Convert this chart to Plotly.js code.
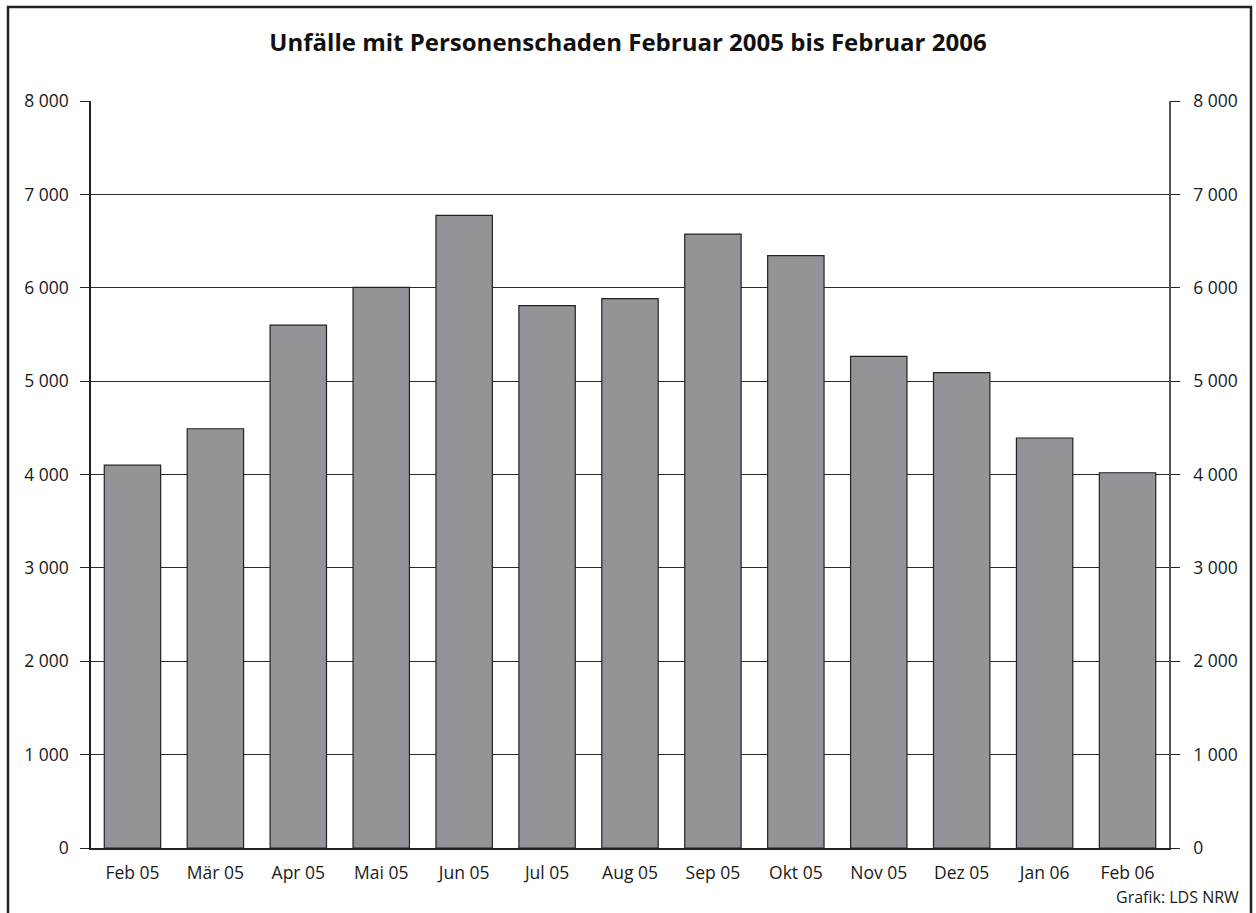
<!DOCTYPE html>
<html>
<head>
<meta charset="utf-8">
<script src="https://cdn.plot.ly/plotly-3.0.1.min.js"></script>
<style>
html,body{margin:0;padding:0;background:#fff;}
#chart{width:1256px;height:913px;}
</style>
</head>
<body>
<div id="chart"></div>
<script>
const months = ["Feb 05","Mär 05","Apr 05","Mai 05","Jun 05","Jul 05","Aug 05","Sep 05","Okt 05","Nov 05","Dez 05","Jan 06","Feb 06"];
const accidents = [4100, 4490, 5600, 6005, 6775, 5808, 5883, 6575, 6343, 5265, 5090, 4391, 4019];
const yTicks = [0,1000,2000,3000,4000,5000,6000,7000,8000];
const titleText = "Unfälle mit Personenschaden Februar 2005 bis Februar 2006";
const sourceText = "Grafik: LDS NRW";

const font = "Open Sans, Noto Sans, sans-serif";

const traces = [
  {
    type: "bar",
    x: months,
    y: accidents,
    marker: {color: "#939498", line: {color: "#222222", width: 1.2}},
    hoverinfo: "x+y",
    showlegend: false
  },
  {
    type: "scatter",
    mode: "markers",
    x: months,
    y: accidents,
    yaxis: "y2",
    marker: {opacity: 0},
    hoverinfo: "skip",
    showlegend: false
  }
];

const yaxisCommon = {
  range: [0, 8000],
  tickvals: yTicks,
  tickformat: ",d",
  ticks: "outside",
  ticklen: 9,
  tickwidth: 1.2,
  tickcolor: "#222",
  showline: true,
  linecolor: "#222",
  linewidth: 1.5,
  tickfont: {family: font, size: 17.5, color: "#1a1a1a"},
  fixedrange: true,
  zeroline: false
};

const layout = {
  width: 1256,
  height: 913,
  separators: ", ",
  paper_bgcolor: "#ffffff",
  plot_bgcolor: "#ffffff",
  margin: {l: 91, r: 87, t: 101, b: 65},
  bargap: 0.32,
  title: {
    text: "<b>" + titleText + "</b>",
    font: {family: font, size: 24, color: "#111"},
    x: 0.5, xanchor: "center",
    y: 1 - 43/913, yref: "container", yanchor: "middle"
  },
  xaxis: {
    type: "category",
    range: [-0.5, 12.5],
    showline: true,
    linecolor: "#222",
    linewidth: 1.5,
    ticks: "",
    ticklabelstandoff: 8,
    tickfont: {family: font, size: 17.5, color: "#1a1a1a"},
    showgrid: false,
    fixedrange: true
  },
  yaxis: Object.assign({}, yaxisCommon, {
    showgrid: true,
    gridcolor: "#2a2a2a",
    gridwidth: 1.3,
    ticklabelstandoff: 8
  }),
  yaxis2: Object.assign({}, yaxisCommon, {
    overlaying: "y",
    side: "right",
    showgrid: false,
    linecolor: "#555",
    ticklabelstandoff: 10
  }),
  shapes: [
    {
      type: "rect", xref: "paper", yref: "paper",
      x0: (8-91)/1078, x1: (1251-91)/1078,
      y0: (848-930)/747, y1: (848-7)/747,
      line: {color: "#222", width: 2.5},
      fillcolor: "rgba(0,0,0,0)",
      layer: "below"
    }
  ],
  annotations: [
    {
      text: sourceText,
      xref: "paper", yref: "paper",
      x: (1241-91)/1078, y: (848-897)/747,
      xanchor: "right", yanchor: "middle",
      showarrow: false,
      font: {family: font, size: 16, color: "#1a1a1a"}
    }
  ]
};

Plotly.newPlot("chart", traces, layout, {displayModeBar: false});
</script>
</body>
</html>
